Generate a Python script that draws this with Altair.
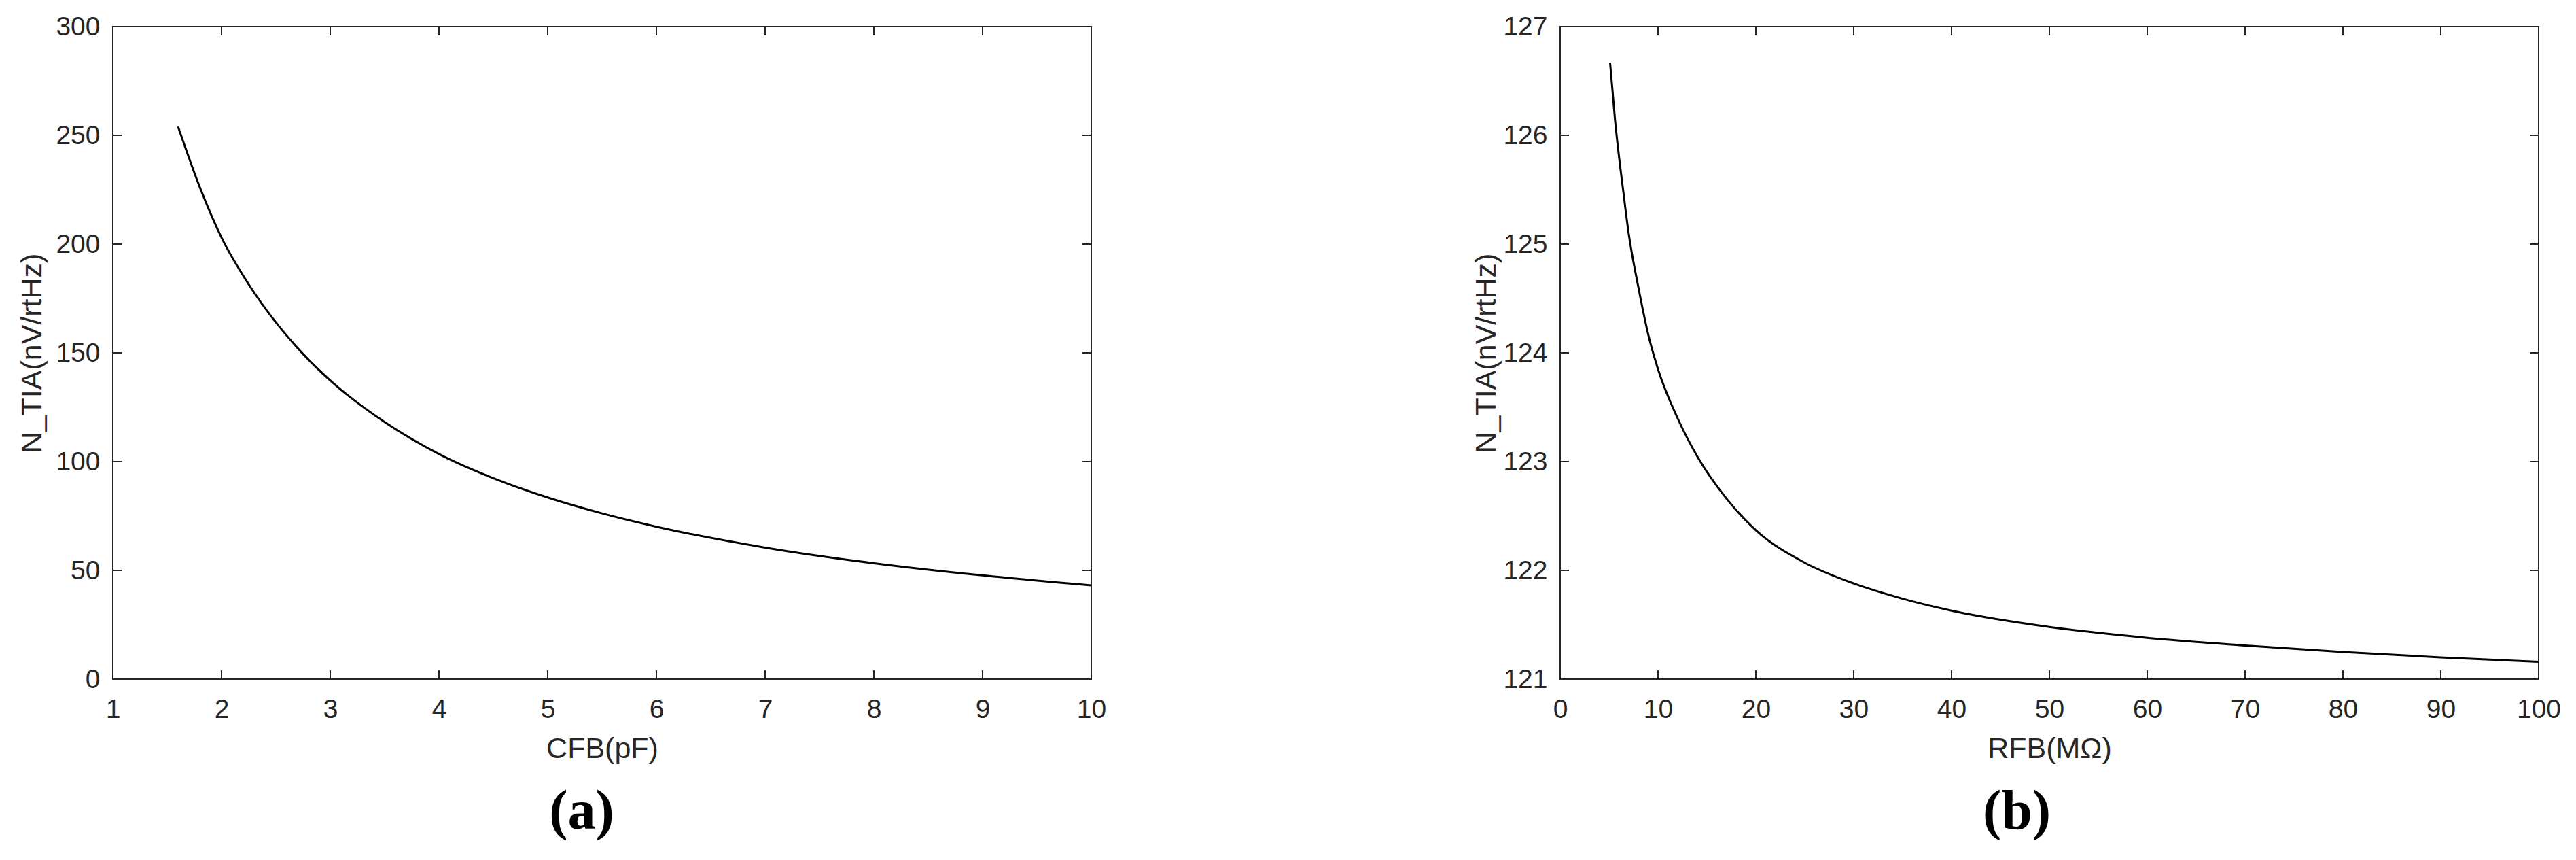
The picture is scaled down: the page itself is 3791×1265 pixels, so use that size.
import altair as alt
import pandas as pd

# ---- data ----
cfb = [1.6, 1.8, 2.0, 2.25, 2.5, 2.75, 3.0, 3.5, 4.0, 4.5, 5.0, 5.5, 6.0, 7.0, 8.0, 9.0, 10.0]
n_tia_a = [254, 226.2, 203, 181.5, 164, 149.5, 137.3, 118.2, 103.5, 92.4, 83.5, 76.2, 70.1,
           60.5, 53.3, 47.7, 43.1]

rfb = [5.1, 5.6, 6.5, 7, 8, 9, 10, 12, 14, 17, 20, 25, 30, 35, 40, 50, 60, 70, 80, 90, 100]
n_tia_b = [126.67, 126.15, 125.45, 125.1, 124.6, 124.17, 123.85, 123.4, 123.05, 122.66, 122.37,
           122.07, 121.88, 121.74, 121.63, 121.48, 121.38, 121.31, 121.25, 121.2, 121.16]

x_ticks_a = [1, 2, 3, 4, 5, 6, 7, 8, 9, 10]
y_ticks_a = [0, 50, 100, 150, 200, 250, 300]
x_ticks_b = [0, 10, 20, 30, 40, 50, 60, 70, 80, 90, 100]
y_ticks_b = [121, 122, 123, 124, 125, 126, 127]

W, H = 1440, 960
TICK = 13
AX = "#262626"


def panel(xs, ys, xt, yt, xdom, ydom, xtitle, ytitle, tag, tag_x, ytitle_x):
    xscale = alt.Scale(domain=xdom, nice=False, zero=False)
    yscale = alt.Scale(domain=ydom, nice=False, zero=False)
    xaxis = alt.Axis(values=xt, title=xtitle, grid=False, ticks=False, domain=False,
                     labelPadding=25, labelFontSize=39, titleFontSize=43,
                     titleBaseline="alphabetic", titleY=115, labelFlush=False)
    yaxis = alt.Axis(values=yt, title=ytitle, grid=False, ticks=False, domain=False,
                     labelPadding=19, labelFontSize=39, titleFontSize=43,
                     titleBaseline="alphabetic", titleX=ytitle_x, titleY=H / 2,
                     titleAngle=-90)
    df = pd.DataFrame({"x": xs, "y": ys})
    line = alt.Chart(df).mark_line(color="black", strokeWidth=3, interpolate="monotone").encode(
        x=alt.X("x:Q", scale=xscale, axis=xaxis, title=xtitle),
        y=alt.Y("y:Q", scale=yscale, axis=yaxis, title=ytitle),
    )
    xtd = pd.DataFrame({"x": xt})
    ytd = pd.DataFrame({"y": yt})
    rule = dict(color=AX, strokeWidth=2)
    xb = alt.Chart(xtd).mark_rule(**rule).encode(
        x=alt.X("x:Q", scale=xscale, axis=xaxis, title=xtitle),
        y=alt.value(H - TICK), y2=alt.value(H))
    xtop = alt.Chart(xtd).mark_rule(**rule).encode(
        x=alt.X("x:Q", scale=xscale, axis=xaxis, title=xtitle),
        y=alt.value(0), y2=alt.value(TICK))
    yl = alt.Chart(ytd).mark_rule(**rule).encode(
        y=alt.Y("y:Q", scale=yscale, axis=yaxis, title=ytitle),
        x=alt.value(0), x2=alt.value(TICK))
    yr = alt.Chart(ytd).mark_rule(**rule).encode(
        y=alt.Y("y:Q", scale=yscale, axis=yaxis, title=ytitle),
        x=alt.value(W - TICK), x2=alt.value(W))
    tag_df = pd.DataFrame({"t": [tag]})
    tag_mark = alt.Chart(tag_df).mark_text(
        font="Liberation Serif", fontWeight="bold", fontSize=82, align="center",
        baseline="alphabetic", color="black").encode(
        text="t:N", x=alt.value(tag_x), y=alt.value(1180))
    return alt.layer(line, xb, xtop, yl, yr, tag_mark).properties(width=W, height=H)


left = panel(cfb, n_tia_a, x_ticks_a, y_ticks_a, [1, 10], [0, 300],
             "CFB(pF)", "N_TIA(nV/rtHz)", "(a)", 690, -106)
right = panel(rfb, n_tia_b, x_ticks_b, y_ticks_b, [0, 100], [121, 127],
              "RFB(MΩ)", "N_TIA(nV/rtHz)", "(b)", 672, -96)

chart = alt.hconcat(left, right, spacing=690, bounds="flush").properties(
    padding={"left": 17, "top": 11, "right": 0, "bottom": 0}
).configure_view(stroke=AX, strokeWidth=2).configure_axis(
    labelFont="Liberation Sans", titleFont="Liberation Sans",
    labelColor=AX, titleColor=AX, titleFontWeight="normal"
)

chart.save("out.html", embed_options={"renderer": "svg", "actions": False})
